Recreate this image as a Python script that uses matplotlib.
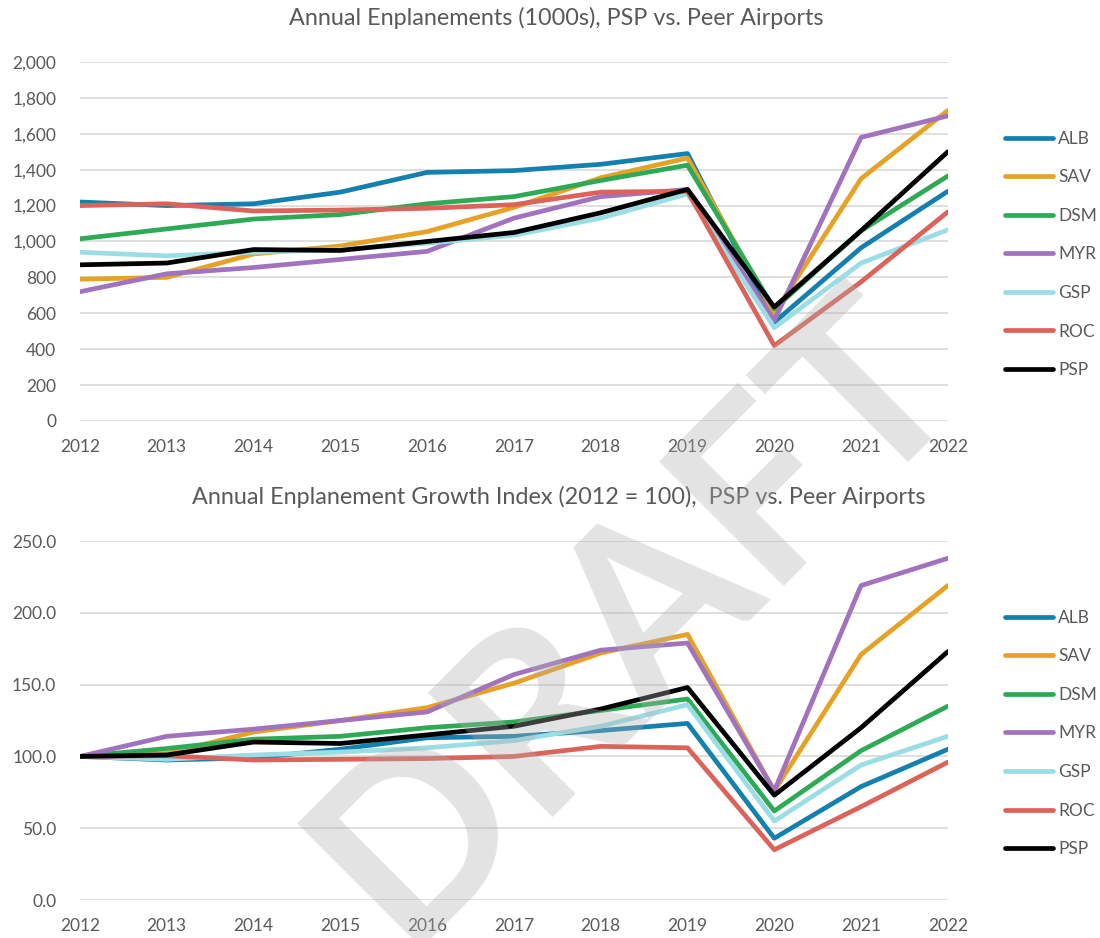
import matplotlib
matplotlib.use("Agg")
import matplotlib.pyplot as plt

plt.rcParams["font.family"] = ["Lato", "DejaVu Sans"]

years = list(range(2012, 2023))
airports = ["ALB", "SAV", "DSM", "MYR", "GSP", "ROC", "PSP"]
colors = ["#1380AE", "#E5A227", "#2EAA57", "#A173BE", "#9BDDE5", "#DB6359", "#000000"]

# enplanements, thousands
alb = [1220, 1200, 1210, 1275, 1385, 1395, 1430, 1490, 550, 965, 1280]
sav = [790, 800, 930, 975, 1055, 1190, 1355, 1465, 600, 1350, 1730]
dsm = [1015, 1070, 1125, 1150, 1210, 1250, 1340, 1425, 625, 1060, 1365]
myr = [720, 820, 855, 900, 945, 1130, 1250, 1290, 560, 1580, 1700]
gsp = [940, 920, 940, 955, 990, 1035, 1130, 1265, 520, 880, 1065]
roc = [1200, 1210, 1170, 1175, 1185, 1205, 1275, 1280, 420, 775, 1165]
psp = [870, 880, 955, 950, 1000, 1050, 1160, 1290, 635, 1060, 1500]

# growth index, 2012 = 100
alb_idx = [100, 97.5, 99, 105, 113, 114, 118, 123, 43, 79, 105]
sav_idx = [100, 102, 117, 125, 134, 151, 172, 185, 76, 171, 219]
dsm_idx = [100, 105.5, 112, 114, 120, 124, 132, 140, 62, 104, 135]
myr_idx = [100, 114, 119, 125, 131, 157, 174, 179, 76, 219, 238]
gsp_idx = [100, 98, 101, 103, 106, 111, 121, 136, 55, 94, 114]
roc_idx = [100, 100.5, 97.5, 98, 98.5, 100, 107, 106, 35, 65, 96]
psp_idx = [100, 101, 110, 109, 115, 121, 133, 148, 73, 120, 173]

enpl = [alb, sav, dsm, myr, gsp, roc, psp]
index = [alb_idx, sav_idx, dsm_idx, myr_idx, gsp_idx, roc_idx, psp_idx]

txt = "#595959"
fig = plt.figure(figsize=(11, 9.38), dpi=100)
ax1 = fig.add_axes([0.0727, 0.5512, 0.789, 0.3827])
ax2 = fig.add_axes([0.0727, 0.0405, 0.789, 0.3827])


def style(ax, ylim, yticks, fmt):
    ax.set_xlim(2012, 2022)
    ax.set_ylim(*ylim)
    ax.set_xticks(years)
    ax.set_yticks(yticks)
    ax.set_yticklabels([fmt(v) for v in yticks])
    ax.grid(axis="y", color="#d9d9d9", lw=1.2)
    ax.set_axisbelow(True)
    for s in ax.spines.values():
        s.set_visible(False)
    ax.tick_params(length=0, labelsize=12.5, labelcolor=txt)
    ax.tick_params(axis="y", pad=17)
    ax.tick_params(axis="x", pad=13)
    ax.legend(loc="center left", bbox_to_anchor=(1.0657, 0.464), frameon=False,
              fontsize=12.5, labelcolor=txt, handlelength=2.76, handletextpad=0.3,
              labelspacing=1.3, borderpad=0, borderaxespad=0)


for name, c, v in zip(airports, colors, enpl):
    ax1.plot(years, v, color=c, lw=3.4, label=name, solid_capstyle="round")
style(ax1, (0, 2000), list(range(0, 2001, 200)), lambda v: f"{v:,}")

for name, c, v in zip(airports, colors, index):
    ax2.plot(years, v, color=c, lw=3.4, label=name, solid_capstyle="round")
style(ax2, (0, 250), [0, 50, 100, 150, 200, 250], lambda v: f"{v:.1f}")

fig.text(0.506, 0.981, "Annual Enplanements (1000s), PSP vs. Peer Airports",
         fontsize=16.8, color=txt, ha="center", va="center")
fig.text(0.508, 0.470, "Annual Enplanement Growth Index (2012 = 100),  PSP vs. Peer Airports",
         fontsize=16.8, color=txt, ha="center", va="center")

fig.text(0.622, 0.29, "DRAFT", rotation=45, fontsize=176, fontweight="bold",
         color="#b0b0b0", alpha=0.35, ha="center", va="baseline",
         rotation_mode="anchor", zorder=10)

fig.savefig("out.png", dpi=100)
